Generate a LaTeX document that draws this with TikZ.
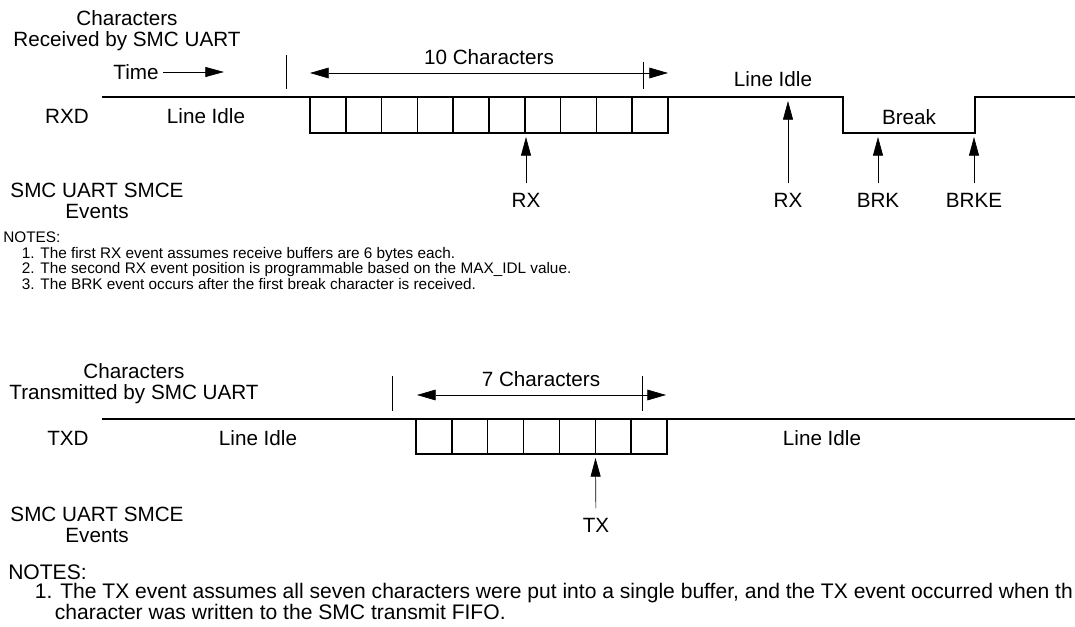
\documentclass[tikz,border=0pt]{standalone}
\usepackage{fontspec}
\setmainfont{Liberation Sans}
\usetikzlibrary{arrows.meta}

\begin{document}
\begin{tikzpicture}[
      x=0.75pt, y=-0.75pt,
      font=\fontsize{15.5}{15.75}\selectfont,
      sig/.style={line width=1.1pt},
      cell/.style={line width=1.1pt},
      tick/.style={line width=0.5pt},
      span/.style={{Triangle[length=14pt,width=8pt]}-{Triangle[length=14pt,width=8pt]}, line width=0.5pt},
      evarrow/.style={-{Triangle[length=14pt,width=7.5pt]}, line width=0.5pt},
      lbl/.style={inner sep=0pt, align=center},
      evlbl/.style={inner xsep=1pt, inner ysep=7pt},
      notes/.style={inner sep=0pt, align=left, anchor=north west,
                    font=\fontsize{11.5}{11.6}\selectfont}
    ]
    \useasboundingbox (0,0) rectangle (1075,627);
    \clip (0,0) rectangle (1075,627);

    % receive side
    \node[lbl, anchor=north] (rxhead) at (127,10.5) {Characters\\Received by SMC UART};
    \node[lbl] (time) at (136,72) {Time};
    \coordinate (timeend) at (224,72);
    \draw[evarrow, shorten <=3pt] (time.east) -- (timeend);

    \draw[tick] (286,55) -- (286,89);
    \draw[tick] (643,62) -- (643,89);
    \coordinate (c10l) at (310,73);
    \coordinate (c10r) at (668,73);
    \draw[span] (c10l) -- (c10r);
    \node[lbl] (c10) at (489,57) {10 Characters};

    \draw[sig] (102,97) -- (843,97) -- (843,133) -- (975,133) -- (975,97) -- (1075,97);
    \foreach \i in {0,...,9}
      \draw[cell] (310+35.8*\i,97) rectangle ++(35.8,36);

    \node[lbl] (rxd)    at (67,116)  {RXD};
    \node[lbl] (idlea)  at (206,116) {Line Idle};
    \node[lbl] (idleb)  at (773,79)  {Line Idle};
    \node[lbl] (brkzone) at (909,117) {Break};
    \node[lbl, anchor=north] (rxev) at (97,182.5) {SMC UART SMCE\\Events};

    \foreach \ex/\ey/\txt/\nm in {526/137/RX/rxa, 788/101/RX/rxb, 878/137/BRK/brk, 974/137/BRKE/brke} {
      \coordinate (\nm-tip) at (\ex,\ey);
      \node[evlbl] (\nm) at (\ex,200) {\txt};
      \draw[evarrow] (\nm) -- (\nm-tip);
    }

    \node[notes] (rxnotes) at (3,232) {NOTES:\\
      \hspace*{14pt}1. The first RX event assumes receive buffers are 6 bytes each.\\
      \hspace*{14pt}2. The second RX event position is programmable based on the MAX\_IDL value.\\
      \hspace*{14pt}3. The BRK event occurs after the first break character is received.};

    % transmit side
    \node[lbl, anchor=north] (txhead) at (134,363.5) {Characters\\Transmitted by SMC UART};
    \draw[tick] (392,376) -- (392,411);
    \draw[tick] (642,376) -- (642,411);
    \coordinate (c7l) at (417,395);
    \coordinate (c7r) at (666,395);
    \draw[span] (c7l) -- (c7r);
    \node[lbl] (c7) at (541,379) {7 Characters};

    \draw[sig] (102,419) -- (1075,419);
    \foreach \i in {0,...,6}
      \draw[cell] (416+35.86*\i,419) rectangle ++(35.86,35);

    \node[lbl] (txd)   at (68,438)  {TXD};
    \node[lbl] (idlec) at (258,438) {Line Idle};
    \node[lbl] (idled) at (822,438) {Line Idle};
    \node[lbl, anchor=north] (txev) at (97,506.5) {SMC UART SMCE\\Events};

    \coordinate (tx-tip) at (595.5,458);
    \node[evlbl] (tx) at (596,525) {TX};
    \draw[evarrow] (tx) -- (tx-tip);

    \node[notes, font=\fontsize{15.8}{14}\selectfont] (txnotes) at (8,565) {NOTES:\\
      \hspace*{20pt}1. The TX event assumes all seven characters were put into a single buffer, and the TX event occurred when th\\
      \hspace*{35pt}character was written to the SMC transmit FIFO.};
  \end{tikzpicture}
\end{document}
